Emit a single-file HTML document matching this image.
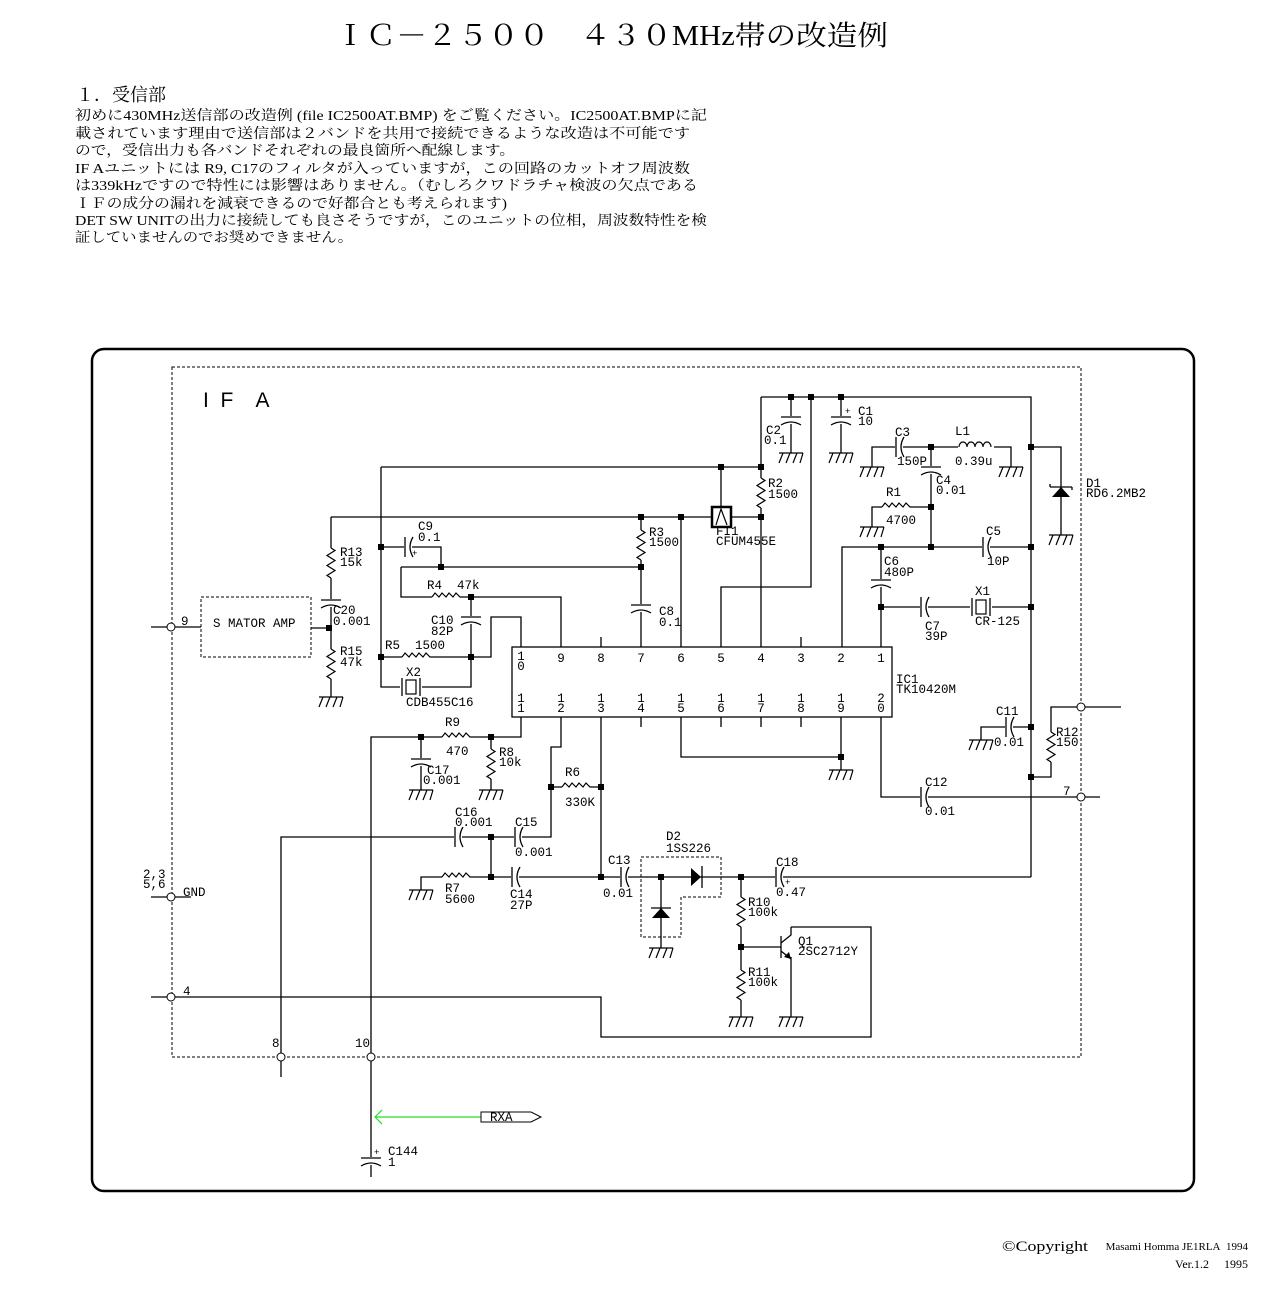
<!DOCTYPE html>
<html><head><meta charset="utf-8"><style>
html,body{margin:0;padding:0;background:#fff;width:1280px;height:1300px;overflow:hidden}
svg{display:block}
.m{font-family:"Liberation Mono",monospace;font-size:12.5px;fill:#000;white-space:pre}
.j{font-family:"Liberation Serif","Noto Serif CJK SC","Noto Sans CJK JP",serif;fill:#000;white-space:pre}
</style></head><body>
<svg width="1280" height="1300" viewBox="0 0 1280 1300" xmlns="http://www.w3.org/2000/svg">
<defs>
<g id="rv"><rect x="-6" y="-15" width="12" height="30" fill="#fff"/><polyline points="0,-15 4,-12.5 -4,-7.5 4,-2.5 -4,2.5 4,7.5 -4,12.5 0,15" fill="none" stroke="#000" stroke-width="1.2"/></g>
<g id="rh"><rect x="-15" y="-6" width="30" height="12" fill="#fff"/><polyline points="-15,0 -12,-4 -8,0 -5,-4 -1,0 2,-4 6,0 9,-4 13,0 15,0" fill="none" stroke="#000" stroke-width="1.2"/></g>
<g id="gnd" stroke="#000" stroke-width="1.2" fill="none"><path d="M-12 0H12M-8 0L-12 10M-1 0L-5 10M6 0L2 10M12 0L9 10"/></g>
<g id="cv"><rect x="-12" y="-4" width="24" height="8" fill="#fff"/><path d="M-10 -3H10M-10 5Q0 -1 10 5" stroke="#000" stroke-width="1.3" fill="none"/></g>
<g id="ch"><rect x="-4" y="-12" width="8" height="24" fill="#fff"/><path d="M-3 -10V10M5 -10Q-1 0 5 10" stroke="#000" stroke-width="1.3" fill="none"/></g>
<g id="xh"><rect x="-11" y="-11" width="22" height="22" fill="#fff"/><path d="M-9 -9V9M9 -9V9" stroke="#000" stroke-width="1.3"/><rect x="-5" y="-7" width="10" height="14" fill="none" stroke="#000" stroke-width="1.2"/></g>
<g id="gd"><rect x="-3" y="-3" width="6" height="6" fill="#000"/></g>
</defs>

<text x="335" y="45" class="j" font-size="28" textLength="553" lengthAdjust="spacingAndGlyphs">ＩＣ－２５００　４３０MHz帯の改造例</text>
<text x="76" y="101" class="j" font-size="18">１．受信部</text>
<g class="j" font-size="14">
<text x="75" y="120" textLength="632" lengthAdjust="spacingAndGlyphs">初めに430MHz送信部の改造例 (file IC2500AT.BMP) をご覧ください。IC2500AT.BMPに記</text>
<text x="75" y="138" textLength="615" lengthAdjust="spacingAndGlyphs">載されています理由で送信部は２バンドを共用で接続できるような改造は不可能です</text>
<text x="75" y="155" textLength="440" lengthAdjust="spacingAndGlyphs">ので，受信出力も各バンドそれぞれの最良箇所へ配線します。</text>
<text x="75" y="173" textLength="615" lengthAdjust="spacingAndGlyphs">IF Aユニットには R9, C17のフィルタが入っていますが，この回路のカットオフ周波数</text>
<text x="75" y="190" textLength="623" lengthAdjust="spacingAndGlyphs">は339kHzですので特性には影響はありません。（むしろクワドラチャ検波の欠点である</text>
<text x="75" y="208" textLength="432" lengthAdjust="spacingAndGlyphs">ＩＦの成分の漏れを減衰できるので好都合とも考えられます)</text>
<text x="75" y="225" textLength="632" lengthAdjust="spacingAndGlyphs">DET SW UNITの出力に接続しても良さそうですが，このユニットの位相，周波数特性を検</text>
<text x="75" y="242" textLength="278" lengthAdjust="spacingAndGlyphs">証していませんのでお奨めできません。</text>
</g>

<rect x="92" y="349" width="1102" height="842" rx="12" fill="none" stroke="#000" stroke-width="2.5"/>
<rect x="172" y="367" width="909" height="690" fill="none" stroke="#000" stroke-width="1" stroke-dasharray="3,2"/>
<text x="203" y="407" font-family="Liberation Sans,sans-serif" font-size="21" font-weight="300" style="white-space:pre">I  F    A</text>
<rect x="201" y="597" width="110" height="60" fill="none" stroke="#000" stroke-dasharray="3,2"/>
<path d="M641 857H721V897H681V937H641Z" fill="none" stroke="#000" stroke-dasharray="3,2"/>

<g stroke="#000" stroke-width="1.3" fill="none">
<path d="M381 467H761M331 517H761M331 517V697M311 628H331M151 627H201"/>
<path d="M381 467V687H471V657M381 547H441V567M401 567H641M401 567V597H561V647"/>
<path d="M471 597V657M381 657H491V617H521V647M641 517V647M681 517V647"/>
<path d="M721 647V587H811V397M721 467V517M761 397V647M761 397H1031V877"/>
<path d="M791 397V453M841 397V453M1031 447H1061V535M872 467V447H1011V467"/>
<path d="M931 447V547M872 527V507H931M842 647V547H1031M881 547V647M881 607H1031"/>
<path d="M841 717V770M681 717V757H841M881 717V797H1100M981 740V727H1031"/>
<path d="M1031 777H1051V707H1121"/>
<path d="M521 717V737H371V1177M421 737V790M491 737V790"/>
<path d="M561 717V747H551V837H281V1077M551 787H601M601 717V877H1031"/>
<path d="M491 837V877M421 890V877H601M151 997H601V1037H871V927H791"/>
<path d="M661 877V948M741 877V1017M741 947H781M791 957V1017M151 897H191"/>
<path d="M601 637V647M801 637V647M641 717V727M721 717V727M761 717V727M801 717V727"/>
<path d="M781 936V958M781 943L791 935V927M781 951L791 959"/>
</g>
<path d="M791 959L784 957L789 952Z" fill="#000"/>

<rect x="512" y="647" width="380" height="70" fill="#fff" stroke="#000" stroke-width="1.3"/>
<g class="m" text-anchor="middle">
<text x="521" y="660">1</text><text x="521" y="670">0</text>
<text x="561" y="662">9</text><text x="601" y="662">8</text><text x="641" y="662">7</text><text x="681" y="662">6</text>
<text x="721" y="662">5</text><text x="761" y="662">4</text><text x="801" y="662">3</text><text x="841" y="662">2</text><text x="881" y="662">1</text>
<text x="521" y="702">1</text><text x="521" y="712">1</text>
<text x="561" y="702">1</text><text x="561" y="712">2</text>
<text x="601" y="702">1</text><text x="601" y="712">3</text>
<text x="641" y="702">1</text><text x="641" y="712">4</text>
<text x="681" y="702">1</text><text x="681" y="712">5</text>
<text x="721" y="702">1</text><text x="721" y="712">6</text>
<text x="761" y="702">1</text><text x="761" y="712">7</text>
<text x="801" y="702">1</text><text x="801" y="712">8</text>
<text x="841" y="702">1</text><text x="841" y="712">9</text>
<text x="881" y="702">2</text><text x="881" y="712">0</text>
</g>

<use href="#rv" x="331" y="563"/><use href="#rv" x="331" y="664"/><use href="#rv" x="641" y="545"/>
<use href="#rv" x="761" y="493"/><use href="#rv" x="491" y="764"/><use href="#rv" x="741" y="912"/>
<use href="#rv" x="741" y="985"/><use href="#rv" x="1051" y="747"/>
<use href="#rh" x="447" y="597"/><use href="#rh" x="417" y="657"/><use href="#rh" x="897" y="507"/>
<use href="#rh" x="457" y="737"/><use href="#rh" x="577" y="787"/><use href="#rh" x="457" y="877"/>
<use href="#cv" x="331" y="603"/><use href="#cv" x="791" y="420"/><use href="#cv" x="841" y="420"/>
<use href="#cv" x="931" y="470"/><use href="#cv" x="881" y="583"/><use href="#cv" x="641" y="608"/>
<use href="#cv" x="471" y="620"/><use href="#cv" x="421" y="762"/><use href="#cv" x="371" y="1161"/>
<use href="#ch" x="408" y="547"/><use href="#ch" x="899" y="447"/><use href="#ch" x="986" y="547"/>
<use href="#ch" x="924" y="607"/><use href="#ch" x="1009" y="727"/><use href="#ch" x="924" y="797"/>
<use href="#ch" x="458" y="837"/><use href="#ch" x="518" y="837"/><use href="#ch" x="515" y="877"/>
<use href="#ch" x="624" y="877"/><use href="#ch" x="779" y="877"/>
<use href="#xh" x="411" y="687"/><use href="#xh" x="981" y="607"/>
<rect x="958" y="440" width="36" height="10" fill="#fff"/>
<path d="M959 447a4 5 0 0 1 8 0a4 5 0 0 1 8 0a4 5 0 0 1 8 0a4 5 0 0 1 8 0" fill="none" stroke="#000" stroke-width="1.2"/>
<rect x="712" y="507" width="19" height="20" fill="#fff" stroke="#000" stroke-width="2.5"/>
<path d="M716 525L721 509L727 525" fill="none" stroke="#000" stroke-width="1.2"/>
<path d="M1052 497H1070L1061 487Z" fill="#000"/><path d="M1050 487H1072M1050 487V484M1072 487V490" stroke="#000" stroke-width="1.3" fill="none"/>
<path d="M652 918H670L661 908Z" fill="#000"/><path d="M651 908H671" stroke="#000" stroke-width="1.3"/>
<path d="M691 868V886L701 877Z" fill="#000"/><path d="M702 866V888" stroke="#000" stroke-width="1.3"/>
<use href="#gnd" x="331" y="697"/><use href="#gnd" x="791" y="453"/><use href="#gnd" x="841" y="453"/>
<use href="#gnd" x="872" y="467"/><use href="#gnd" x="1011" y="467"/><use href="#gnd" x="872" y="527"/>
<use href="#gnd" x="1061" y="535"/><use href="#gnd" x="841" y="770"/><use href="#gnd" x="981" y="740"/>
<use href="#gnd" x="421" y="790"/><use href="#gnd" x="491" y="790"/><use href="#gnd" x="421" y="890"/>
<use href="#gnd" x="661" y="948"/><use href="#gnd" x="741" y="1017"/><use href="#gnd" x="791" y="1017"/>
<g>
<use href="#gd" x="721" y="467"/><use href="#gd" x="761" y="467"/><use href="#gd" x="641" y="517"/><use href="#gd" x="681" y="517"/><use href="#gd" x="761" y="517"/>
<use href="#gd" x="329" y="628"/><use href="#gd" x="381" y="547"/><use href="#gd" x="381" y="657"/><use href="#gd" x="441" y="567"/><use href="#gd" x="641" y="567"/>
<use href="#gd" x="471" y="597"/><use href="#gd" x="471" y="657"/><use href="#gd" x="791" y="397"/><use href="#gd" x="811" y="397"/><use href="#gd" x="841" y="397"/>
<use href="#gd" x="1031" y="447"/><use href="#gd" x="931" y="447"/><use href="#gd" x="931" y="507"/><use href="#gd" x="931" y="547"/><use href="#gd" x="881" y="547"/>
<use href="#gd" x="1031" y="547"/><use href="#gd" x="881" y="607"/><use href="#gd" x="1031" y="607"/><use href="#gd" x="1031" y="727"/><use href="#gd" x="1031" y="777"/>
<use href="#gd" x="841" y="757"/><use href="#gd" x="421" y="737"/><use href="#gd" x="491" y="737"/><use href="#gd" x="551" y="787"/><use href="#gd" x="601" y="787"/>
<use href="#gd" x="491" y="837"/><use href="#gd" x="491" y="877"/><use href="#gd" x="601" y="877"/><use href="#gd" x="661" y="877"/><use href="#gd" x="741" y="877"/><use href="#gd" x="741" y="947"/>
</g>
<g fill="#fff" stroke="#000" stroke-width="1">
<circle cx="171" cy="627" r="4"/><circle cx="171" cy="897" r="4"/><circle cx="171" cy="997" r="4"/>
<circle cx="281" cy="1057" r="4"/><circle cx="371" cy="1057" r="4"/><circle cx="1081" cy="707" r="4"/><circle cx="1081" cy="797" r="4"/>
</g>
<path d="M375 1117H481M382 1110L375 1117L382 1124" stroke="#22dd22" stroke-width="1.2" fill="none"/>
<path d="M481 1112H531L541 1117L531 1122H481Z" fill="#fff" stroke="#000"/>
<text x="490" y="1121" class="m" font-size="11">RXA</text>

<g class="m">
<text x="181" y="625">9</text><text x="213" y="627">S MATOR AMP</text>
<text x="143" y="878">2,3</text><text x="143" y="888">5,6</text><text x="183" y="896">GND</text>
<text x="183" y="995">4</text><text x="272" y="1047">8</text><text x="355" y="1047">10</text><text x="1063" y="795">7</text>
<text x="340" y="556">R13</text><text x="340" y="566">15k</text>
<text x="333" y="614">C20</text><text x="333" y="625">0.001</text>
<text x="340" y="655">R15</text><text x="340" y="666">47k</text>
<text x="418" y="530">C9</text><text x="418" y="541">0.1</text><text x="412" y="556" font-size="9">+</text>
<text x="427" y="589">R4&#160; 47k</text>
<text x="431" y="624">C10</text><text x="431" y="635">82P</text>
<text x="385" y="649">R5&#160; 1500</text>
<text x="406" y="676">X2</text><text x="406" y="706">CDB455C16</text>
<text x="649" y="536">R3</text><text x="649" y="546">1500</text>
<text x="659" y="615">C8</text><text x="659" y="626">0.1</text>
<text x="716" y="535">FI1</text><text x="716" y="545">CFUM455E</text>
<text x="768" y="487">R2</text><text x="768" y="498">1500</text>
<text x="766" y="434">C2</text><text x="764" y="444">0.1</text>
<text x="845" y="414" font-size="9">+</text><text x="858" y="415">C1</text><text x="858" y="425">10</text>
<text x="895" y="436">C3</text><text x="897" y="465">150P</text>
<text x="955" y="435">L1</text><text x="955" y="465">0.39u</text>
<text x="936" y="484">C4</text><text x="936" y="494">0.01</text>
<text x="886" y="496">R1</text><text x="886" y="524">4700</text>
<text x="986" y="535">C5</text><text x="987" y="565">10P</text>
<text x="884" y="565">C6</text><text x="884" y="576">480P</text>
<text x="925" y="630">C7</text><text x="925" y="640">39P</text>
<text x="975" y="595">X1</text><text x="975" y="625">CR-125</text>
<text x="1086" y="487">D1</text><text x="1086" y="497">RD6.2MB2</text>
<text x="896" y="683">IC1</text><text x="896" y="693">TK10420M</text>
<text x="996" y="715">C11</text><text x="994" y="746">0.01</text>
<text x="1056" y="736">R12</text><text x="1056" y="746">150</text>
<text x="925" y="786">C12</text><text x="925" y="815">0.01</text>
<text x="445" y="726">R9</text><text x="446" y="755">470</text>
<text x="499" y="756">R8</text><text x="499" y="766">10k</text>
<text x="427" y="774">C17</text><text x="423" y="784">0.001</text>
<text x="565" y="776">R6</text><text x="565" y="806">330K</text>
<text x="455" y="816">C16</text><text x="455" y="826">0.001</text>
<text x="515" y="826">C15</text><text x="515" y="856">0.001</text>
<text x="510" y="898">C14</text><text x="510" y="909">27P</text>
<text x="445" y="892">R7</text><text x="445" y="903">5600</text>
<text x="608" y="864">C13</text><text x="603" y="897">0.01</text>
<text x="666" y="840">D2</text><text x="666" y="852">1SS226</text>
<text x="776" y="866">C18</text><text x="776" y="896">0.47</text><text x="785" y="885" font-size="9">+</text>
<text x="748" y="906">R10</text><text x="748" y="916">100k</text>
<text x="798" y="945">Q1</text><text x="798" y="955">2SC2712Y</text>
<text x="748" y="976">R11</text><text x="748" y="986">100k</text>
<text x="374" y="1155" font-size="9">+</text><text x="388" y="1155">C144</text><text x="388" y="1166">1</text>
</g>

<text x="1002" y="1251" class="j" font-size="15" textLength="86" lengthAdjust="spacingAndGlyphs">©Copyright</text>
<text x="1248" y="1250" class="j" font-size="11" text-anchor="end">Masami Homma JE1RLA&#160; 1994</text>
<text x="1248" y="1268" class="j" font-size="12" text-anchor="end">Ver.1.2&#160;&#160;&#160;&#160; 1995</text>
</svg>
</body></html>
